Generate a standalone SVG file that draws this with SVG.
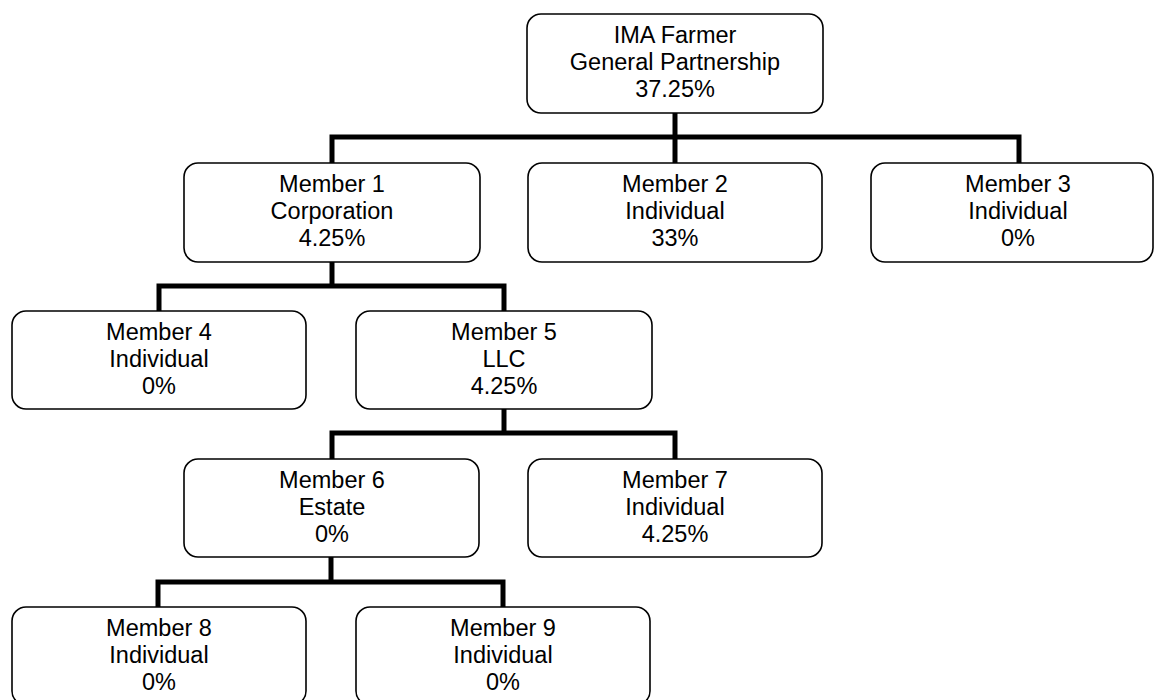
<svg xmlns="http://www.w3.org/2000/svg" width="1155" height="700" viewBox="0 0 1155 700">
<style>
.box{fill:#fff;stroke:#000;stroke-width:1.6}
.t{font-family:"Liberation Sans",Arial,sans-serif;font-size:23.5px;fill:#000;text-anchor:middle}
.c{fill:none;stroke:#000;stroke-width:5;stroke-linejoin:miter;stroke-linecap:butt}
</style>
<rect width="1155" height="700" fill="#fff"/>
<g id="connectors">
<path class="c" d="M675,113 V137"/>
<path class="c" d="M332,163 V137 H1019 V163"/>
<path class="c" d="M675,137 V163"/>
<path class="c" d="M332,262 V286"/>
<path class="c" d="M159,311 V286 H504 V311"/>
<path class="c" d="M504,409 V433"/>
<path class="c" d="M332,459 V433 H675 V459"/>
<path class="c" d="M331,557 V582"/>
<path class="c" d="M158,607 V582 H503 V607"/>
</g>
<g id="node-gp">
<rect class="box" x="527" y="14" width="296" height="99" rx="14"/>
<text class="t" x="675" y="43">IMA Farmer</text>
<text class="t" x="675" y="70">General Partnership</text>
<text class="t" x="675" y="97">37.25%</text>
</g>
<g id="node-m1">
<rect class="box" x="184" y="163" width="296" height="99" rx="14"/>
<text class="t" x="332" y="191.5">Member 1</text>
<text class="t" x="332" y="218.5">Corporation</text>
<text class="t" x="332" y="245.5">4.25%</text>
</g>
<g id="node-m2">
<rect class="box" x="528" y="163" width="294" height="99" rx="14"/>
<text class="t" x="675" y="191.5">Member 2</text>
<text class="t" x="675" y="218.5">Individual</text>
<text class="t" x="675" y="245.5">33%</text>
</g>
<g id="node-m3">
<rect class="box" x="871" y="163" width="282" height="99" rx="14"/>
<text class="t" x="1018" y="191.5">Member 3</text>
<text class="t" x="1018" y="218.5">Individual</text>
<text class="t" x="1018" y="245.5">0%</text>
</g>
<g id="node-m4">
<rect class="box" x="12" y="311" width="294" height="98" rx="14"/>
<text class="t" x="159" y="339.5">Member 4</text>
<text class="t" x="159" y="366.5">Individual</text>
<text class="t" x="159" y="393.5">0%</text>
</g>
<g id="node-m5">
<rect class="box" x="356" y="311" width="296" height="98" rx="14"/>
<text class="t" x="504" y="339.5">Member 5</text>
<text class="t" x="504" y="366.5">LLC</text>
<text class="t" x="504" y="393.5">4.25%</text>
</g>
<g id="node-m6">
<rect class="box" x="184" y="459" width="295" height="98" rx="14"/>
<text class="t" x="332" y="487.5">Member 6</text>
<text class="t" x="332" y="514.5">Estate</text>
<text class="t" x="332" y="541.5">0%</text>
</g>
<g id="node-m7">
<rect class="box" x="528" y="459" width="294" height="98" rx="14"/>
<text class="t" x="675" y="487.5">Member 7</text>
<text class="t" x="675" y="514.5">Individual</text>
<text class="t" x="675" y="541.5">4.25%</text>
</g>
<g id="node-m8">
<rect class="box" x="12" y="607" width="294" height="98" rx="14"/>
<text class="t" x="159" y="635.5">Member 8</text>
<text class="t" x="159" y="662.5">Individual</text>
<text class="t" x="159" y="689.5">0%</text>
</g>
<g id="node-m9">
<rect class="box" x="356" y="607" width="294" height="98" rx="14"/>
<text class="t" x="503" y="635.5">Member 9</text>
<text class="t" x="503" y="662.5">Individual</text>
<text class="t" x="503" y="689.5">0%</text>
</g>
</svg>
